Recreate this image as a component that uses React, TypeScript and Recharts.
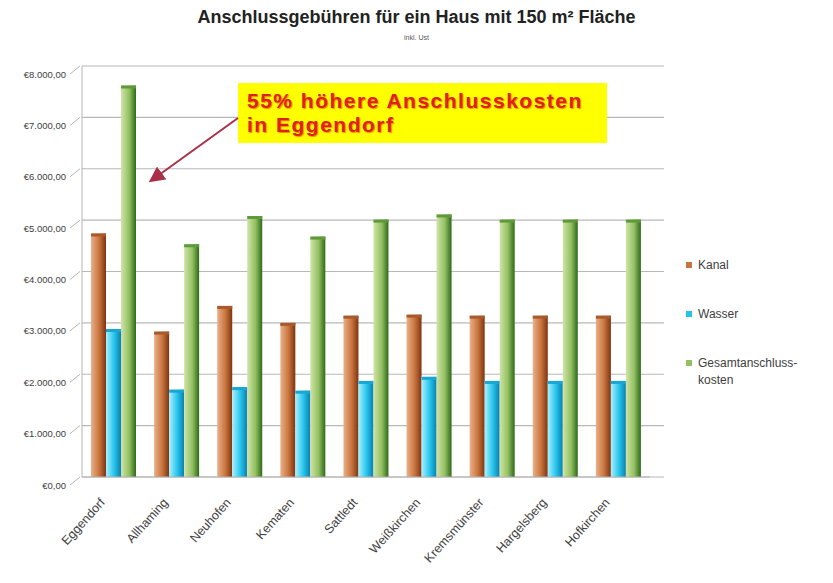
import React from "react";
import { BarChart, Bar, XAxis, YAxis, CartesianGrid } from "recharts";

const categories = [
  "Eggendorf",
  "Allhaming",
  "Neuhofen",
  "Kematen",
  "Sattledt",
  "Weißkirchen",
  "Kremsmünster",
  "Hargelsberg",
  "Hofkirchen",
];
const kanal = [4740, 2830, 3330, 3000, 3140, 3160, 3140, 3140, 3140];
const wasser = [2880, 1700, 1750, 1680, 1870, 1950, 1870, 1870, 1870];
const gesamt = [7620, 4530, 5080, 4680, 5010, 5110, 5010, 5010, 5010];
const yTicks = [0, 1000, 2000, 3000, 4000, 5000, 6000, 7000, 8000];

const SERIES = [
  { key: "kanal", name: "Kanal", light: "#eab088", mid: "#c8743e", dark: "#7e3410", top: "#a85a2c" },
  { key: "wasser", name: "Wasser", light: "#a8f0ff", mid: "#26c4ec", dark: "#0a7eb0", top: "#1aa6d4" },
  { key: "gesamt", name: "Gesamtanschluss-kosten", light: "#cfe4a8", mid: "#94c062", dark: "#2c6a18", top: "#5f9a3a" },
];

const data = categories.map((name, i) => ({
  name,
  kanal: kanal[i],
  wasser: wasser[i],
  gesamt: gesamt[i],
}));

// € 1.000,00 im deutschen Format
function euro(v: number): string {
  const s =
    v >= 1000
      ? `${Math.floor(v / 1000)}.${String(v % 1000).padStart(3, "0")}`
      : String(v);
  return `€${s},00`;
}

const FONT = "'Liberation Sans', Arial, sans-serif";

function YTick(props: any) {
  const { x, y, payload } = props;
  return (
    <g>
      <line x1={x - 4} y1={y + 8} x2={x + 6} y2={y} stroke="#b4b4b4" />
      <text
        x={x - 8}
        y={y + 8}
        textAnchor="end"
        dominantBaseline="central"
        fontSize={9.5}
        fill="#404040"
        fontFamily={FONT}
      >
        {euro(payload.value)}
      </text>
    </g>
  );
}

function XTick(props: any) {
  const { x, y, payload } = props;
  return (
    <text
      transform={`translate(${x - 8},${y + 18}) rotate(-48)`}
      textAnchor="end"
      fontSize={12.5}
      fill="#404040"
      fontFamily={FONT}
    >
      {payload.value}
    </text>
  );
}

function makeShape(s: (typeof SERIES)[number]) {
  return (props: any) => {
    const { x, y, width, height } = props;
    if (!height || height <= 0) return null;
    return (
      <g>
        <rect x={x} y={y} width={width} height={height} fill={`url(#g-${s.key})`} />
        <rect x={x} y={y} width={width} height={3} fill={s.top} />
      </g>
    );
  };
}

function GridLine(props: any) {
  const { x1, x2, y1, y2, key } = props;
  return <line key={key} x1={x1} x2={x2 + 14} y1={y1} y2={y2} stroke="#b8b8b8" strokeWidth={1.2} />;
}

export default function App() {
  return (
    <div
      style={{
        position: "absolute",
        left: 0,
        top: 0,
        width: 833,
        height: 583,
        background: "#fff",
        fontFamily: FONT,
      }}
    >
      <div
        style={{
          position: "absolute",
          left: 0,
          width: 833,
          top: 7,
          textAlign: "center",
          fontSize: 18,
          fontWeight: "bold",
          color: "#222",
        }}
      >
        Anschlussgebühren für ein Haus mit 150 m² Fläche
      </div>
      <div
        style={{
          position: "absolute",
          left: 0,
          width: 833,
          top: 34,
          textAlign: "center",
          fontSize: 7,
          color: "#555",
        }}
      >
        inkl. Ust
      </div>

      <BarChart
        width={833}
        height={583}
        data={data}
        margin={{ top: 66, right: 183, bottom: 76, left: 10 }}
        barCategoryGap={18}
        barGap={0}
      >
        <defs>
          {SERIES.map((s) => (
            <linearGradient key={s.key} id={`g-${s.key}`} x1="0" y1="0" x2="1" y2="0">
              <stop offset="0%" stopColor={s.light} />
              <stop offset="55%" stopColor={s.mid} />
              <stop offset="100%" stopColor={s.dark} />
            </linearGradient>
          ))}
        </defs>
        <CartesianGrid vertical={false} horizontal={GridLine as any} />
        <XAxis
          dataKey="name"
          height={30}
          interval={0}
          tick={<XTick />}
          tickLine={false}
          axisLine={{ stroke: "#b4b4b4", strokeWidth: 1.2 }}
        />
        <YAxis
          width={72}
          domain={[0, 8000]}
          ticks={yTicks}
          tick={<YTick />}
          tickLine={false}
          axisLine={{ stroke: "#b4b4b4" }}
        />
        {SERIES.map((s) => (
          <Bar
            key={s.key}
            dataKey={s.key}
            name={s.name}
            barSize={15}
            shape={makeShape(s)}
            isAnimationActive={false}
          />
        ))}
      </BarChart>

      {/* Legende */}
      <div style={{ position: "absolute", left: 686, top: 257 }}>
        {SERIES.map((s) => (
          <div
            key={s.key}
            style={{ display: "flex", alignItems: "flex-start", height: 49, fontSize: 12, color: "#404040" }}
          >
            <span
              style={{
                display: "inline-block",
                width: 6,
                height: 6,
                marginTop: 5,
                marginRight: 6,
                background: s.mid,
              }}
            />
            <span style={{ lineHeight: "17px" }}>
              {s.name.split("-").map((part, i, arr) => (
                <div key={i}>{i < arr.length - 1 ? part + "-" : part}</div>
              ))}
            </span>
          </div>
        ))}
      </div>

      {/* Hinweis */}
      <div
        style={{
          position: "absolute",
          left: 238,
          top: 83,
          width: 369,
          height: 60,
          background: "#ffff00",
          boxSizing: "border-box",
          padding: "6px 0 0 9px",
          fontFamily: "'Liberation Sans', Arial, sans-serif",
          fontWeight: "bold",
          fontSize: 21,
          letterSpacing: 1.5,
          lineHeight: "24px",
          color: "#e0201b",
          textShadow: "1px 1px 1px #f08a00",
        }}
      >
        55% höhere Anschlusskosten
        <br />
        in Eggendorf
      </div>
      <svg
        width={833}
        height={583}
        style={{ position: "absolute", left: 0, top: 0, pointerEvents: "none" }}
      >
        <defs>
          <marker id="arr" markerWidth="8" markerHeight="8" refX="6" refY="4" orient="auto">
            <path d="M0,0 L8,4 L0,8 Z" fill="#a83048" />
          </marker>
        </defs>
        <line x1={238} y1={118} x2={152} y2={180} stroke="#a83048" strokeWidth={2} markerEnd="url(#arr)" />
      </svg>
    </div>
  );
}
